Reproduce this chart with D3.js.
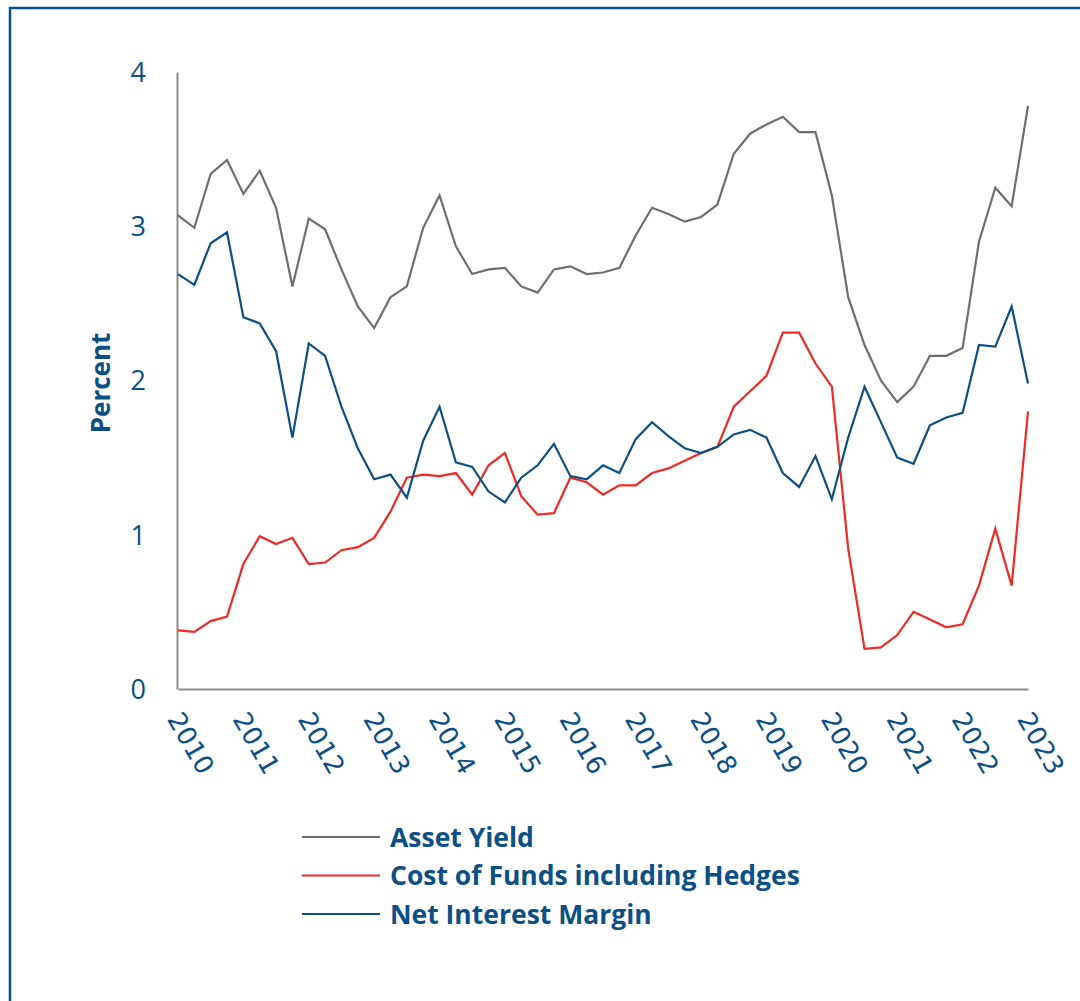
<!DOCTYPE html>
<html>
<head>
<meta charset="utf-8">
<script src="https://cdn.jsdelivr.net/npm/d3@7"></script>
<style>
  html, body { margin: 0; padding: 0; background: #fff; }
  svg { display: block; }
</style>
</head>
<body>
<div id="chart"></div>
<script>
// quarterly observations, 2010 Q1 .. 2023 Q1
const startYear = 2010;
const yearTicks = [2010, 2011, 2012, 2013, 2014, 2015, 2016, 2017, 2018, 2019, 2020, 2021, 2022, 2023];
const yTicks = [0, 1, 2, 3, 4];

const assetYield = [
  3.07, 2.99, 3.34, 3.43, 3.21, 3.36, 3.12, 2.61, 3.05, 2.98,
  2.72, 2.48, 2.34, 2.54, 2.61, 2.99, 3.20, 2.87, 2.69, 2.72,
  2.73, 2.61, 2.57, 2.72, 2.74, 2.69, 2.70, 2.73, 2.94, 3.12,
  3.08, 3.03, 3.06, 3.14, 3.47, 3.60, 3.66, 3.71, 3.61, 3.61,
  3.20, 2.54, 2.23, 2.00, 1.86, 1.96, 2.16, 2.16, 2.21, 2.90,
  3.25, 3.13, 3.78
];
const costOfFunds = [
  0.38, 0.37, 0.44, 0.47, 0.81, 0.99, 0.94, 0.98, 0.81, 0.82,
  0.90, 0.92, 0.98, 1.15, 1.37, 1.39, 1.38, 1.40, 1.26, 1.45,
  1.53, 1.25, 1.13, 1.14, 1.37, 1.34, 1.26, 1.32, 1.32, 1.40,
  1.43, 1.48, 1.53, 1.57, 1.83, 1.93, 2.03, 2.31, 2.31, 2.11,
  1.96, 0.91, 0.26, 0.27, 0.35, 0.50, 0.45, 0.40, 0.42, 0.67,
  1.04, 0.67, 1.80
];
const netInterestMargin = [
  2.69, 2.62, 2.89, 2.96, 2.41, 2.37, 2.19, 1.63, 2.24, 2.16,
  1.83, 1.56, 1.36, 1.39, 1.24, 1.61, 1.83, 1.47, 1.44, 1.28,
  1.21, 1.37, 1.45, 1.59, 1.38, 1.36, 1.45, 1.40, 1.62, 1.73,
  1.64, 1.56, 1.53, 1.57, 1.65, 1.68, 1.63, 1.40, 1.31, 1.51,
  1.23, 1.63, 1.96, 1.73, 1.50, 1.46, 1.71, 1.76, 1.79, 2.23,
  2.22, 2.48, 1.98
];

const seriesNames = ["Asset Yield", "Cost of Funds including Hedges", "Net Interest Margin"];
const seriesColors = ["#6e6e6e", "#ee2a24", "#0b4f85"];
const seriesValues = [assetYield, costOfFunds, netInterestMargin];

const W = 1080, H = 1001;
const textBlue = "#0b4f85";
const axisGrey = "#8c8c8c";

const svg = d3.select("#chart").append("svg")
  .attr("width", W)
  .attr("height", H);

// outer frame (runs off the right and bottom of the picture)
svg.append("rect")
  .attr("x", 10)
  .attr("y", 8)
  .attr("width", 1200)
  .attr("height", 1200)
  .attr("fill", "none")
  .attr("stroke", textBlue)
  .attr("stroke-width", 2.5);

// ===============================
// SCALES
// ===============================
const x = d3.scaleLinear()
  .domain([2010, 2023])
  .range([178, 1028]);

const y = d3.scaleLinear()
  .domain([0, 4])
  .range([689, 72]);

// ===============================
// AXES
// ===============================
const gx = svg.append("g")
  .attr("transform", `translate(0,${y(0)})`)
  .call(d3.axisBottom(x).tickValues(yearTicks).tickFormat(d3.format("d")).tickSize(0).tickSizeOuter(0));

gx.select(".domain").attr("stroke", axisGrey).attr("stroke-width", 2);
gx.selectAll(".tick text")
  .attr("font-family", "DejaVu Sans")
  .attr("font-size", 26)
  .attr("fill", textBlue)
  .attr("text-anchor", "start")
  .attr("dy", null)
  .attr("y", null)
  .attr("transform", "translate(-12,30) rotate(60)");

const gy = svg.append("g")
  .attr("transform", `translate(${x(2010) - 1},0)`)
  .call(d3.axisLeft(y).tickValues(yTicks).tickFormat(d3.format("d")).tickSize(0).tickSizeOuter(0));

gy.select(".domain").attr("stroke", axisGrey).attr("stroke-width", 2);
gy.selectAll(".tick text")
  .attr("font-family", "Open Sans")
  .attr("font-size", 27)
  .attr("fill", textBlue)
  .attr("x", -31)
  .attr("dy", "0.35em");

svg.append("text")
  .attr("transform", `translate(110,383) rotate(-90)`)
  .attr("text-anchor", "middle")
  .attr("font-family", "Open Sans")
  .attr("font-weight", "bold")
  .attr("font-size", 26)
  .attr("fill", textBlue)
  .text("Percent");

// ===============================
// LINES
// ===============================
const line = d3.line()
  .x((d, i) => x(startYear + i / 4))
  .y(d => y(d));

seriesValues.forEach((vals, k) => {
  svg.append("path")
    .datum(vals)
    .attr("fill", "none")
    .attr("stroke", seriesColors[k])
    .attr("stroke-width", 2.2)
    .attr("stroke-linejoin", "miter")
    .attr("d", line);
});

// ===============================
// LEGEND
// ===============================
const legend = svg.append("g").attr("transform", "translate(302,837)");

seriesNames.forEach((name, k) => {
  const row = legend.append("g").attr("transform", `translate(0,${k * 38.5})`);
  row.append("line")
    .attr("x1", 0)
    .attr("x2", 78)
    .attr("stroke", seriesColors[k])
    .attr("stroke-width", 2.2);
  row.append("text")
    .attr("x", 88)
    .attr("dy", "0.36em")
    .attr("font-family", "Open Sans")
    .attr("font-weight", "bold")
    .attr("font-size", 26.5)
    .attr("fill", textBlue)
    .text(name);
});
</script>
</body>
</html>
